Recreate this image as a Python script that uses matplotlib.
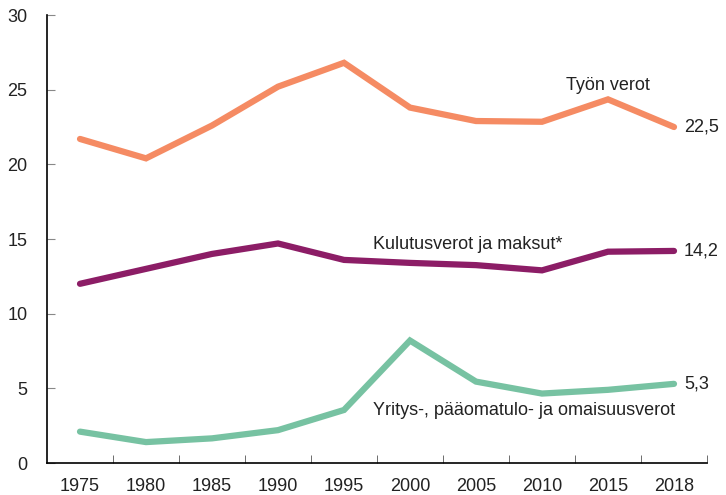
import numpy as np
import matplotlib.pyplot as plt

years = ['1975', '1980', '1985', '1990', '1995', '2000', '2005', '2010', '2015', '2018']
tyon_verot = [21.7, 20.4, 22.6, 25.2, 26.8, 23.8, 22.9, 22.85, 24.35, 22.5]
kulutusverot = [12.0, 13.0, 14.0, 14.7, 13.6, 13.4, 13.25, 12.9, 14.15, 14.2]
yritysverot = [2.1, 1.4, 1.65, 2.2, 3.55, 8.2, 5.45, 4.65, 4.9, 5.3]

plt.rcParams['font.family'] = ['Liberation Sans', 'DejaVu Sans']
txt = '#222222'

fig = plt.figure(figsize=(7.26, 4.95), dpi=100)
ax = fig.add_axes([47/726, 32/495, 660/726, 448/495])

x = np.arange(len(years))
series = [
    (tyon_verot, '#F58B63'),
    (kulutusverot, '#8C1D66'),
    (yritysverot, '#77C2A2'),
]
for vals, col in series:
    ax.plot(x, vals, color=col, lw=4.5, solid_capstyle='round', solid_joinstyle='miter')
    ax.text(9.15, vals[-1], f'{vals[-1]:.1f}'.replace('.', ','), fontsize=13,
            color=txt, va='center', ha='left')

ax.text(8.0, 25.3, 'Työn verot', fontsize=13, color=txt, ha='center', va='center')
ax.text(4.44, 14.6, 'Kulutusverot ja maksut*', fontsize=13, color=txt, ha='left', va='center')
ax.text(4.44, 3.5, 'Yritys-, pääomatulo- ja omaisuusverot', fontsize=13, color=txt,
        ha='left', va='center')

ax.set_xlim(-0.5, 9.5)
ax.set_ylim(0, 30)
ax.set_yticks(range(0, 31, 5))
ax.set_xticks(x)
ax.set_xticklabels(years)
ax.set_xticks(np.arange(0.5, 10, 1), minor=True)
ax.tick_params(axis='x', which='major', length=0, pad=11, labelsize=13, labelcolor=txt)
ax.tick_params(axis='x', which='minor', direction='in', length=6, color='#555555')
ax.tick_params(axis='y', direction='in', length=6, color='#888888', pad=14,
               labelsize=13, labelcolor=txt)

for s in ['top', 'right']:
    ax.spines[s].set_visible(False)
for s in ['left', 'bottom']:
    ax.spines[s].set_linewidth(1.2)

fig.savefig('out.png', dpi=100)
